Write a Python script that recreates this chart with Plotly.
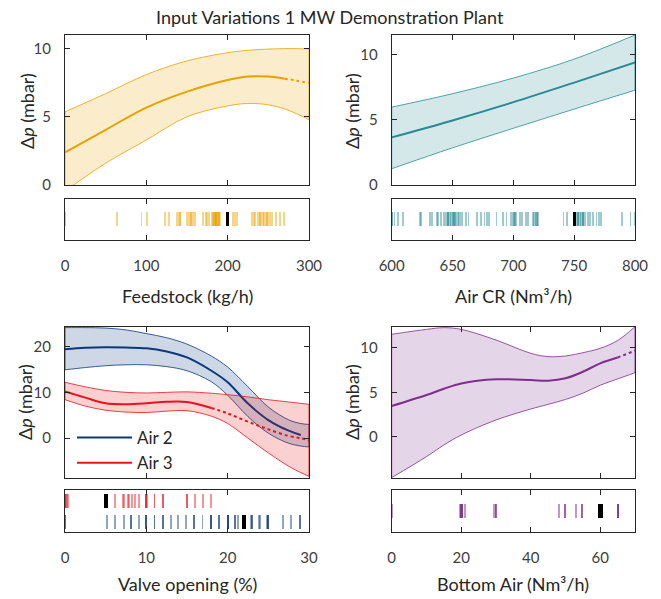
import plotly.graph_objects as go

TITLE = "Input Variations 1 MW Demonstration Plant"

# ---------------- data ----------------
# Feedstock (kg/h)
FEED_X = [0, 50, 100, 150, 200, 225, 250, 270, 285, 300]
FEED_MEAN = [2.4, 4.05, 5.68, 6.85, 7.7, 7.95, 7.95, 7.8, 7.65, 7.46]
FEED_UP = [5.37, 6.7, 8.1, 9.1, 9.7, 9.88, 9.97, 10.0, 10.0, 9.98]
FEED_LO = [-0.45, 1.6, 3.3, 5.0, 5.8, 5.98, 5.88, 5.58, 5.22, 4.78]
FEED_SOLID_END = 270
FEED_OBS = [0, 0, 64, 94, 101, 123, 128, 138, 140, 141, 142, 150, 152, 154, 155,
            156, 158, 160, 170, 173, 175, 177, 181, 182, 183, 184, 185, 186, 187,
            188, 189, 190, 191, 183, 185, 187, 189, 186, 206, 208, 210, 212, 230,
            232, 234, 237, 239, 241, 243, 245, 247, 249, 251, 253, 255, 240, 244,
            248, 259, 264, 269]
FEED_NOMINAL = 200

# Air CR (Nm3/h)
AIR_X = [600, 650, 700, 750, 800]
AIR_MEAN = [3.65, 4.95, 6.35, 7.85, 9.39]
AIR_UP = [5.97, 7.0, 8.2, 9.65, 11.5]
AIR_LO = [1.25, 2.85, 4.35, 5.82, 7.27]
AIR_SOLID_END = 800
AIR_OBS = [600, 600, 602, 605, 609, 623, 624, 631, 633, 637, 638, 640, 643, 644,
           645, 646, 647, 648, 649, 650, 651, 652, 653, 654, 655, 646, 648, 650,
           652, 657, 658, 661, 663, 670, 673, 676, 678, 680, 686, 691, 694, 698,
           699, 700, 701, 702, 700, 705, 707, 710, 712, 716, 717, 718, 719, 720,
           718, 719, 741, 744, 752, 753, 754, 755, 756, 757, 758, 759, 753, 755,
           757, 761, 763, 765, 768, 770, 772, 789, 796, 800]
AIR_NOMINAL = 750

# Valve opening (%)
VALVE_X = [0, 2.5, 5, 7.5, 10, 12.5, 15, 18, 20, 22.5, 25, 27.5, 29, 30]
AIR2_MEAN = [19.4, 19.7, 19.8, 19.75, 19.6, 18.9, 17.6, 14.7, 12.2, 7.55, 3.96, 1.65, 0.72, 0.4]
AIR2_UP = [24.1, 24.1, 24.0, 23.6, 22.8, 21.9, 20.5, 17.9, 15.5, 11.2, 6.8, 4.0, 3.2, 3.0]
AIR2_LO = [14.9, 15.4, 15.8, 16.0, 16.0, 15.6, 14.7, 12.3, 9.35, 4.7, 1.1, -1.1, -1.7, -1.9]
AIR2_SOLID_END = 29
AIR3_MEAN = [10.2, 8.85, 7.6, 7.4, 7.6, 7.95, 7.9, 6.6, 5.4, 3.6, 1.94, 0.5, 0.0, -0.5]
AIR3_UP = [12.2, 11.2, 10.4, 10.0, 9.86, 10.0, 10.1, 9.8, 9.5, 9.0, 8.4, 7.9, 7.6, 7.4]
AIR3_LO = [8.4, 7.0, 6.1, 5.7, 5.6, 5.9, 6.0, 4.8, 3.2, 0.0, -3.2, -6.1, -7.5, -8.3]
AIR3_SOLID_END = 18
AIR3_OBS = [0, 0, 0, 0.15, 0.25, 0.35, 6.2, 7.1, 7.3, 7.7, 7.9, 8.2, 8.6, 9.1, 10, 10,
            10, 10.1, 11, 11, 12, 12, 15, 15, 16, 17, 18]
AIR3_NOMINAL = 5
AIR2_OBS = [0, 0, 5.2, 6.2, 7.2, 8.1, 8.1, 9.1, 10, 10, 10, 11, 11, 12, 12, 13, 13.9,
            14.9, 15.9, 15.9, 16.9, 18, 18, 18, 18.9, 18.9, 20, 20, 20, 20, 20.9,
            20.9, 21.3, 22.9, 23, 23, 23.8, 24, 24.8, 25, 25, 25, 26.8, 27.8, 28.9,
            28.9]
AIR2_NOMINAL = 22

# Bottom Air (Nm3/h)
BA_X = [0, 10, 15, 20, 30, 40, 45, 50, 55, 60, 65, 70]
BA_MEAN = [3.47, 4.7, 5.4, 6.0, 6.46, 6.38, 6.3, 6.57, 7.3, 8.25, 8.9, 9.66]
BA_UP = [11.5, 12.05, 12.24, 12.05, 10.86, 9.37, 9.0, 9.07, 9.44, 9.93, 10.8, 12.35]
BA_LO = [-4.55, -2.2, -0.9, 0.22, 1.9, 3.13, 3.65, 4.2, 4.9, 5.8, 6.5, 7.2]
BA_SOLID_END = 65
BA_OBS = [0, 19.7, 20, 20.2, 20, 20, 21, 29.5, 30, 30, 48, 49.8, 49.8, 53, 54.6,
          54.6, 65, 65, 65, 65]
BA_NOMINAL = 60

# ---------------- styling ----------------
ORANGE = (233, 161, 0)
TEAL = (42, 138, 148)
BLUE = (10, 55, 125)
RED = (232, 20, 27)
PURPLE = (126, 47, 142)
FONT = "Lato"
AX_COL = "#262626"
W, H = 661, 599


def rgba(c, a):
    return f"rgba({c[0]},{c[1]},{c[2]},{a})"


def px_x(p):
    return p / W


def px_y(p):
    return 1 - p / H


fig = go.Figure()


def band(xs, lo, up, mean, solid_end, color, xa, ya, name=None, dotted=True):
    fig.add_trace(go.Scatter(x=xs, y=lo, mode="lines", line=dict(color=rgba(color, 1), width=0.8, shape="spline"),
                             xaxis=xa, yaxis=ya, showlegend=False, hoverinfo="skip"))
    fig.add_trace(go.Scatter(x=xs, y=up, mode="lines", fill="tonexty", fillcolor=rgba(color, 0.2),
                             line=dict(color=rgba(color, 1), width=0.8, shape="spline"),
                             xaxis=xa, yaxis=ya, showlegend=False, hoverinfo="skip"))
    fig.add_trace(go.Scatter(x=[xs[0], xs[0], None, xs[-1], xs[-1]], y=[lo[0], up[0], None, lo[-1], up[-1]],
                             mode="lines", line=dict(color=rgba(color, 1), width=0.8),
                             xaxis=xa, yaxis=ya, showlegend=False, hoverinfo="skip"))
    sx = [x for x in xs if x <= solid_end]
    sy = [m for x, m in zip(xs, mean) if x <= solid_end]
    fig.add_trace(go.Scatter(x=sx, y=sy, mode="lines", line=dict(color=rgba(color, 1), width=2, shape="spline"),
                             xaxis=xa, yaxis=ya, showlegend=name is not None, name=name or "", hoverinfo="skip"))
    if dotted:
        dx = [x for x in xs if x >= solid_end]
        dy = [m for x, m in zip(xs, mean) if x >= solid_end]
        if len(dx) > 1:
            fig.add_trace(go.Scatter(x=dx, y=dy, mode="lines",
                                     line=dict(color=rgba(color, 1), width=2, dash="dot", shape="spline"),
                                     xaxis=xa, yaxis=ya, showlegend=False, hoverinfo="skip"))


def rug(obs, nominal, color, xa, ya, base, height, width, alpha=0.45):
    fig.add_trace(go.Bar(x=obs, y=[height] * len(obs), base=base, width=width,
                         marker=dict(color=rgba(color, alpha), line=dict(width=0)),
                         xaxis=xa, yaxis=ya, showlegend=False, hoverinfo="skip"))
    fig.add_trace(go.Bar(x=[nominal], y=[height], base=base, width=width * 2.0,
                         marker=dict(color="black", line=dict(width=0)),
                         xaxis=xa, yaxis=ya, showlegend=False, hoverinfo="skip"))


# panels
band(FEED_X, FEED_LO, FEED_UP, FEED_MEAN, FEED_SOLID_END, ORANGE, "x", "y")
rug(FEED_OBS, FEED_NOMINAL, ORANGE, "x2", "y2", 0.35, 0.34, 300 / 244 * 1.7)

band(AIR_X, AIR_LO, AIR_UP, AIR_MEAN, AIR_SOLID_END, TEAL, "x3", "y3")
rug(AIR_OBS, AIR_NOMINAL, TEAL, "x4", "y4", 0.35, 0.34, 200 / 243 * 1.7)

band(VALVE_X, AIR2_LO, AIR2_UP, AIR2_MEAN, AIR2_SOLID_END, BLUE, "x5", "y5", name="Air 2", dotted=False)
band(VALVE_X, AIR3_LO, AIR3_UP, AIR3_MEAN, AIR3_SOLID_END, RED, "x5", "y5", name="Air 3")
rug(AIR3_OBS, AIR3_NOMINAL, RED, "x6", "y6", 0.56, 0.34, 30 / 244 * 1.9)
rug(AIR2_OBS, AIR2_NOMINAL, BLUE, "x6", "y6", 0.06, 0.34, 30 / 244 * 1.9)

band(BA_X, BA_LO, BA_UP, BA_MEAN, BA_SOLID_END, PURPLE, "x7", "y7")
rug(BA_OBS, BA_NOMINAL, PURPLE, "x8", "y8", 0.32, 0.35, 70 / 244 * 2.4, alpha=0.5)

# ---------------- axes ----------------
LEFT = [px_x(65), px_x(309)]
RIGHT = [px_x(391.7), px_x(635)]
TOP_MAIN = [px_y(185), px_y(35)]
TOP_RUG = [px_y(240), px_y(199)]
BOT_MAIN = [px_y(477.7), px_y(326.7)]
BOT_RUG = [px_y(531.7), px_y(490)]

tickfont = dict(family=FONT, size=15, color="#404040")
common = dict(showline=True, linecolor=AX_COL, linewidth=1, mirror="ticks", ticks="inside",
              ticklen=5, tickcolor=AX_COL, showgrid=False, zeroline=False, tickfont=tickfont,
              automargin=False)

panels = [
    (1, LEFT, TOP_MAIN, TOP_RUG, [0, 300], [0, 11.0], [0, 100, 200, 300], [0, 5, 10]),
    (3, RIGHT, TOP_MAIN, TOP_RUG, [600, 800], [0, 11.5], [600, 650, 700, 750, 800], [0, 5, 10]),
    (5, LEFT, BOT_MAIN, BOT_RUG, [0, 30], [-8.6, 24.3], [0, 10, 20, 30], [0, 10, 20]),
    (7, RIGHT, BOT_MAIN, BOT_RUG, [0, 70], [-4.56, 12.35], [0, 20, 40, 60], [0, 5, 10]),
]
layout = {}
for n, xd, myd, ryd, xr, yr, xt, yt in panels:
    m, r = n, n + 1
    layout[f"xaxis{m}"] = dict(common, domain=xd, range=xr, tickvals=xt, showticklabels=False,
                               anchor=f"y{m}")
    layout[f"yaxis{m}"] = dict(common, domain=myd, range=yr, tickvals=yt, anchor=f"x{m}",
                               ticklabelstandoff=10)
    layout[f"xaxis{r}"] = dict(common, domain=xd, range=xr, tickvals=xt, anchor=f"y{r}",
                               ticklabelstandoff=12)
    layout[f"yaxis{r}"] = dict(showline=True, linecolor=AX_COL, linewidth=1, mirror=True, ticks="",
                               showticklabels=False, showgrid=False, zeroline=False,
                               domain=ryd, range=[0, 1], anchor=f"x{r}", automargin=False)
layout["xaxis"] = layout.pop("xaxis1")
layout["yaxis"] = layout.pop("yaxis1")

title_font = dict(family=FONT, size=18, color="#262626")
annotations = []
for text, x, y, ang in [
    ("Δ<i>p</i> (mbar)", 27, 111, -90),
    ("Δ<i>p</i> (mbar)", 352, 111, -90),
    ("Δ<i>p</i> (mbar)", 25, 402, -90),
    ("Δ<i>p</i> (mbar)", 352, 402, -90),
    ("Feedstock (kg/h)", 187, 296, 0),
    ("Air CR (Nm³/h)", 513, 296, 0),
    ("Valve opening (%)", 187, 584, 0),
    ("Bottom Air (Nm³/h)", 513, 584, 0),
]:
    annotations.append(dict(text=text, x=px_x(x), y=px_y(y), xref="paper", yref="paper",
                            xanchor="center", yanchor="middle", showarrow=False, textangle=ang,
                            font=title_font))
annotations.append(dict(text=TITLE, x=px_x(330), y=px_y(17), xref="paper", yref="paper",
                        xanchor="center", yanchor="middle", showarrow=False,
                        font=dict(family=FONT, size=18, color="#262626")))

fig.update_layout(
    template="none",
    width=W, height=H, margin=dict(l=0, r=0, t=0, b=0, pad=0, autoexpand=False),
    paper_bgcolor="white", plot_bgcolor="white",
    barmode="overlay", bargap=0,
    annotations=annotations,
    legend=dict(x=px_x(72), y=px_y(420), xanchor="left", yanchor="top", traceorder="normal",
                bgcolor="rgba(0,0,0,0)", borderwidth=0, itemwidth=55,
                font=dict(family=FONT, size=17, color="#262626")),
    **layout,
)

fig.write_html("out.html")
